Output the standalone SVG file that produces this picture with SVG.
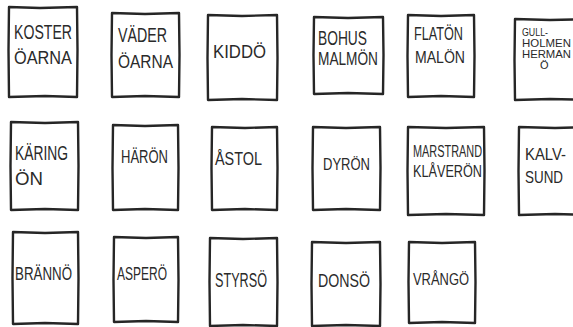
<svg xmlns="http://www.w3.org/2000/svg" width="573" height="327" viewBox="0 0 573 327">
<style>
.box{fill:#fff;stroke:#262626;stroke-width:2.4;stroke-linejoin:round;stroke-linecap:round}
.lbl{font-family:"Liberation Sans","DejaVu Sans",sans-serif;fill:#2a2a2a;font-weight:normal}
</style>
<rect width="573" height="327" fill="#fff"/>
<g id="connectors"/>
<g id="n-koster"><path class="box" d="M9,7 L40,8 L77,7 L77.5,50 L77,97 L45,96 L9,97 L8.5,50 Z"/>
<text class="lbl" x="14" y="39" font-size="20" textLength="58" lengthAdjust="spacingAndGlyphs">KOSTER</text>
<text class="lbl" x="14" y="64" font-size="19" textLength="58" lengthAdjust="spacingAndGlyphs">ÖARNA</text></g>
<g id="n-vader"><path class="box" d="M112,13 L145,14 L179,13 L179.5,55 L179,97 L145,96 L112,97 L111.5,55 Z"/>
<text class="lbl" x="118" y="42" font-size="20" textLength="49" lengthAdjust="spacingAndGlyphs">VÄDER</text>
<text class="lbl" x="118" y="68" font-size="18" textLength="55" lengthAdjust="spacingAndGlyphs">ÖARNA</text></g>
<g id="n-kiddo"><path class="box" d="M208,15 L242,16 L277,15 L277.5,58 L277,100 L242,99 L208,100 L207.5,58 Z"/>
<text class="lbl" x="213" y="58" font-size="19" textLength="53" lengthAdjust="spacingAndGlyphs">KIDDÖ</text></g>
<g id="n-bohus"><path class="box" d="M314,17 L348,18 L383,17 L383.5,55 L383,94 L348,93 L314,94 L313.5,55 Z"/>
<text class="lbl" x="318" y="45" font-size="20" textLength="49" lengthAdjust="spacingAndGlyphs">BOHUS</text>
<text class="lbl" x="318" y="65" font-size="18" textLength="60" lengthAdjust="spacingAndGlyphs">MALMÖN</text></g>
<g id="n-flaton"><path class="box" d="M408,15 L441,16 L474,15 L474.5,56 L474,97 L441,96 L408,97 L407.5,56 Z"/>
<text class="lbl" x="414" y="40" font-size="18" textLength="49" lengthAdjust="spacingAndGlyphs">FLATÖN</text>
<text class="lbl" x="415" y="63" font-size="17" textLength="50" lengthAdjust="spacingAndGlyphs">MALÖN</text></g>
<g id="n-gullholmen"><path class="box" d="M515,19 L550,20 L590,19 L590,100 L550,99 L515,100 L514.5,60 Z"/>
<text class="lbl" x="522" y="36" font-size="11" textLength="26" lengthAdjust="spacingAndGlyphs">GULL-</text>
<text class="lbl" x="522" y="47" font-size="11" textLength="49" lengthAdjust="spacingAndGlyphs">HOLMEN</text>
<text class="lbl" x="522" y="58" font-size="11" textLength="49" lengthAdjust="spacingAndGlyphs">HERMAN</text>
<text class="lbl" x="540" y="69" font-size="11">Ö</text></g>
<g id="n-karing"><path class="box" d="M11,122 L45,123 L78,122 L78.5,166 L78,210 L45,209 L11,210 L10.5,166 Z"/>
<text class="lbl" x="15" y="160" font-size="20" textLength="53" lengthAdjust="spacingAndGlyphs">KÄRING</text>
<text class="lbl" x="15" y="185" font-size="18" textLength="28" lengthAdjust="spacingAndGlyphs">ÖN</text></g>
<g id="n-haron"><path class="box" d="M113,125 L145,126 L178,125 L178.5,168 L178,210 L145,209 L113,210 L112.5,168 Z"/>
<text class="lbl" x="121" y="163" font-size="18" textLength="47" lengthAdjust="spacingAndGlyphs">HÄRÖN</text></g>
<g id="n-astol"><path class="box" d="M212,127 L245,128 L277,127 L277.5,168 L277,210 L245,209 L212,210 L211.5,168 Z"/>
<text class="lbl" x="215" y="165" font-size="18" textLength="47" lengthAdjust="spacingAndGlyphs">ÅSTOL</text></g>
<g id="n-dyron"><path class="box" d="M313,127 L346,128 L380,127 L380.5,168 L380,210 L346,209 L313,210 L312.5,168 Z"/>
<text class="lbl" x="323" y="170" font-size="17" textLength="47" lengthAdjust="spacingAndGlyphs">DYRÖN</text></g>
<g id="n-marstrand"><path class="box" d="M408,127 L446,128 L484,127 L484.5,171 L484,215 L446,214 L408,215 L407.5,171 Z"/>
<text class="lbl" x="413" y="157" font-size="16" textLength="69" lengthAdjust="spacingAndGlyphs">MARSTRAND</text>
<text class="lbl" x="413" y="177" font-size="16" textLength="69" lengthAdjust="spacingAndGlyphs">KLÅVERÖN</text></g>
<g id="n-kalvsund"><path class="box" d="M519,127 L555,128 L590,127 L590,215 L555,214 L519,215 L518.5,171 Z"/>
<text class="lbl" x="525" y="160" font-size="17" textLength="41" lengthAdjust="spacingAndGlyphs">KALV-</text>
<text class="lbl" x="525" y="183" font-size="17" textLength="38" lengthAdjust="spacingAndGlyphs">SUND</text></g>
<g id="n-branno"><path class="box" d="M13,232 L45,233 L78,232 L78.5,278 L78,324 L45,323 L13,324 L12.5,278 Z"/>
<text class="lbl" x="15" y="280" font-size="19" textLength="57" lengthAdjust="spacingAndGlyphs">BRÄNNÖ</text></g>
<g id="n-aspero"><path class="box" d="M114,237 L146,238 L178,237 L178.5,280 L178,322 L146,321 L114,322 L113.5,280 Z"/>
<text class="lbl" x="117" y="280" font-size="18" textLength="50" lengthAdjust="spacingAndGlyphs">ASPERÖ</text></g>
<g id="n-styrso"><path class="box" d="M210,238 L243,239 L277,238 L277.5,282 L277,326 L243,325 L210,326 L209.5,282 Z"/>
<text class="lbl" x="215" y="287" font-size="20" textLength="52" lengthAdjust="spacingAndGlyphs">STYRSÖ</text></g>
<g id="n-donso"><path class="box" d="M312,242 L346,243 L380,242 L380.5,284 L380,326 L346,325 L312,326 L311.5,284 Z"/>
<text class="lbl" x="318" y="287" font-size="18" textLength="52" lengthAdjust="spacingAndGlyphs">DONSÖ</text></g>
<g id="n-vrango"><path class="box" d="M409,242 L442,243 L475,242 L475.5,282 L475,323 L442,322 L409,323 L408.5,282 Z"/>
<text class="lbl" x="413" y="285" font-size="17" textLength="56" lengthAdjust="spacingAndGlyphs">VRÅNGÖ</text></g>
</svg>
